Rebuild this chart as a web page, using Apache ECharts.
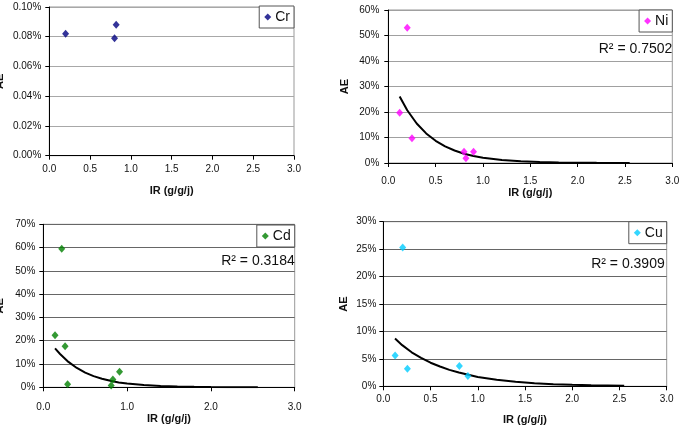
<!DOCTYPE html>
<html><head><meta charset="utf-8">
<script src="https://cdn.jsdelivr.net/npm/echarts@6/dist/echarts.min.js"></script>
<style>html,body{margin:0;padding:0;background:#fff}#c{width:679px;height:431px}</style>
</head><body><div id="c"></div>
<script>
// ---- data ----
const names = ['Cr', 'Ni', 'Cd', 'Cu'];
const crIR = [0.20, 0.80, 0.82];
const crAE = [0.082, 0.079, 0.088];            // %
const niIR = [0.12, 0.20, 0.25, 0.80, 0.82, 0.90];
const niAE = [19.7, 53.0, 9.7, 4.4, 1.9, 4.4]; // %
const cdIR = [0.14, 0.22, 0.26, 0.29, 0.81, 0.83, 0.91];
const cdAE = [22.4, 59.5, 17.6, 1.3, 0.8, 3.4, 6.7];
const cuIR = [0.125, 0.205, 0.255, 0.805, 0.895];
const cuAE = [5.6, 25.3, 3.2, 3.7, 1.9];

// trend lines (as drawn)
const niTrendIR = [0.12,0.2,0.3,0.4,0.5,0.6,0.7,0.8,0.9,1.0,1.2,1.4,1.6,1.8,2.0,2.2,2.55];
const niTrendAE = [26.1,20.7,15.5,11.6,8.7,6.5,4.9,3.65,2.73,2.04,1.14,0.64,0.36,0.20,0.11,0.063,0.023];
const cdTrendIR = [0.14,0.2,0.3,0.4,0.5,0.6,0.7,0.8,0.9,1.0,1.2,1.4,1.6,1.8,2.0,2.2,2.56];
const cdTrendAE = [16.7,14.3,10.9,8.3,6.3,4.8,3.7,2.8,2.1,1.6,0.95,0.56,0.32,0.19,0.11,0.064,0.024];
const cuTrendIR = [0.124,0.2,0.3,0.4,0.5,0.6,0.7,0.8,0.9,1.0,1.2,1.4,1.6,1.8,2.0,2.2,2.55];
const cuTrendAE = [8.7,7.5,6.2,5.2,4.3,3.6,3.0,2.5,2.1,1.7,1.18,0.82,0.57,0.39,0.27,0.19,0.10];

const r2Labels = [null, 'R\u00B2 = 0.7502', 'R\u00B2 = 0.3184', 'R\u00B2 = 0.3909'];
const yMax = [0.10, 60, 70, 30];
const yStep = [0.02, 10, 10, 5];
const xStep = [0.5, 0.5, 1.0, 0.5];
const xTitle = 'IR (g/g/j)';
const yTitle = 'AE';

// ---- layout / style ----
const FONT = 'Liberation Sans, Arial, sans-serif';
const colors = ['#000080', '#FF00FF', '#008000', '#00CCFF'];
const grids = [
  {left: 49.3, top: 7, width: 244.7, height: 148.7},
  {left: 388.3, top: 10, width: 284, height: 153},
  {left: 43.3, top: 224.3, width: 251.4, height: 163},
  {left: 383.3, top: 221.7, width: 283.4, height: 164.6}
];
const gridLineColor = ['#a8a8a8', '#a0a0a0', '#666', '#666'];
const xLabelMargin = [9, 13, 15, 7.5];
const xNameGap = [29.5, 24, 26, 28];
const yLabelMargin = [8, 9, 8, 7];
const yNameGap = [44, 38, 38, 33.5];
const legendPos = [
  {right: 385, top: 6},
  {right: 6.7, top: 10},
  {right: 384.3, top: 225},
  {right: 12.3, top: 221.7}
];
const r2Pos = [null, [672.3, 49.3], [294.7, 260.7], [664.7, 264.3]];

const pts = [[crIR, crAE], [niIR, niAE], [cdIR, cdAE], [cuIR, cuAE]];
const trends = [null, [niTrendIR, niTrendAE], [cdTrendIR, cdTrendAE], [cuTrendIR, cuTrendAE]];
const zip = (a, b) => a.map((v, i) => [v, b[i]]);

const option = {
  animation: false,
  backgroundColor: '#fff',
  textStyle: {fontFamily: FONT},
  grid: grids.map(g => Object.assign({show: true, borderColor: '#999', borderWidth: 1,
    backgroundColor: 'transparent', containLabel: false, outerBoundsMode: 'none'}, g)),
  xAxis: grids.map((g, i) => ({
    gridIndex: i, type: 'value', min: 0, max: 3, interval: xStep[i],
    axisLine: {show: true, onZero: false, lineStyle: {color: '#000', width: 1}},
    axisTick: {show: true, length: 4, lineStyle: {color: '#000'}},
    axisLabel: {fontSize: 10, color: '#111', fontFamily: FONT, margin: xLabelMargin[i],
      showMinLabel: true, showMaxLabel: true, hideOverlap: false, formatter: v => v.toFixed(1)},
    splitLine: {show: false},
    name: xTitle, nameLocation: 'middle', nameGap: xNameGap[i],
    nameTextStyle: {fontSize: 11, fontWeight: 'bold', color: '#111', fontFamily: FONT}
  })),
  yAxis: grids.map((g, i) => ({
    gridIndex: i, type: 'value', min: 0, max: yMax[i], interval: yStep[i],
    axisLine: {show: true, onZero: false, lineStyle: {color: '#000', width: 1}},
    axisTick: {show: true, length: 4, lineStyle: {color: '#000'}},
    axisLabel: {fontSize: 10, color: '#111', fontFamily: FONT, margin: yLabelMargin[i],
      showMinLabel: true, showMaxLabel: true,
      formatter: v => i === 0 ? v.toFixed(2) + '%' : Math.round(v) + '%'},
    splitLine: {show: true, lineStyle: {color: gridLineColor[i], width: 1}},
    name: yTitle, nameLocation: 'middle', nameRotate: 90, nameGap: yNameGap[i],
    nameTextStyle: {fontSize: 11, fontWeight: 'bold', color: '#111', fontFamily: FONT}
  })),
  legend: grids.map((g, i) => Object.assign({
    data: [names[i]], orient: 'horizontal', icon: 'diamond', itemWidth: 7, itemHeight: 7,
    padding: [4, 4, 4, 5], borderColor: '#555', borderWidth: 1, backgroundColor: '#fff',
    selectedMode: false,
    textStyle: {fontSize: 14, color: '#111', fontFamily: FONT, padding: [0, 0, 0, -1]}
  }, legendPos[i])),
  series: [],
  graphic: []
};

for (let i = 0; i < 4; i++) {
  option.series.push({
    name: names[i], type: 'scatter', xAxisIndex: i, yAxisIndex: i,
    symbol: 'diamond', symbolSize: [7, 8],
    itemStyle: {color: colors[i]}, data: zip(pts[i][0], pts[i][1]), z: 3
  });
  if (trends[i]) {
    option.series.push({
      name: names[i] + ' trend', type: 'line', xAxisIndex: i, yAxisIndex: i,
      showSymbol: false, symbol: 'none', smooth: false,
      lineStyle: {color: '#000', width: 2}, data: zip(trends[i][0], trends[i][1]), z: 2
    });
  }
  if (r2Labels[i]) {
    option.graphic.push({
      type: 'text', x: r2Pos[i][0], y: r2Pos[i][1],
      style: {text: r2Labels[i], fontSize: 14, fontFamily: FONT, fill: '#111',
        align: 'right', verticalAlign: 'middle'}
    });
  }
}

const chart = echarts.init(document.getElementById('c'), null, {renderer: 'canvas'});
chart.setOption(option);
</script></body></html>
